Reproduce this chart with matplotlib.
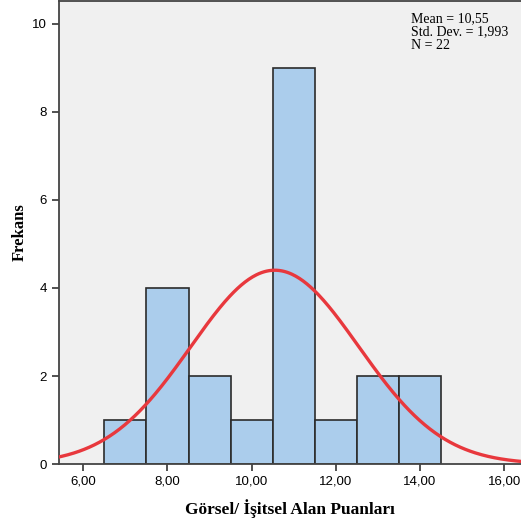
import matplotlib
matplotlib.use("Agg")
from matplotlib import pyplot as plt
import numpy as np

# histogram data (bin centres, counts)
centers = [7, 8, 9, 10, 11, 12, 13, 14]
counts = [1, 4, 2, 1, 9, 1, 2, 2]
mean = 10.55
sd = 1.993
n = 22
xticks = [6, 8, 10, 12, 14, 16]
xticklabels = ['6,00', '8,00', '10,00', '12,00', '14,00', '16,00']
yticks = [0, 2, 4, 6, 8, 10]

fig = plt.figure(figsize=(5.21, 5.27), dpi=100)
ax = fig.add_axes([0.113, 0.1195, 0.887, 0.8785])
ax.set_facecolor('#f0f0f0')

ax.bar(centers, counts, width=1.0, color='#abcdec', edgecolor='#2b2b2b', linewidth=1.2, zorder=2)

x = np.linspace(5.0, 17.0, 400)
y = n * 1.0 / (sd * np.sqrt(2 * np.pi)) * np.exp(-0.5 * ((x - mean) / sd) ** 2)
ax.plot(x, y, color='#e8383d', linewidth=2.4, zorder=3)

ax.set_xlim(5.42, 16.4)
ax.set_ylim(0, 10.52)
ax.set_xticks(xticks)
ax.set_xticklabels(xticklabels, fontfamily='Liberation Sans', fontsize=9.5)
ax.set_yticks(yticks)
ax.set_yticklabels([str(v) for v in yticks], fontfamily='Liberation Sans', fontsize=9.5)
ax.tick_params(direction='out', length=5, width=1.2, color='#333333')

for s in ['left', 'bottom', 'top']:
    ax.spines[s].set_color('#444444')
    ax.spines[s].set_linewidth(1.3)
ax.spines['right'].set_visible(False)

ax.set_xlabel('Görsel/ İşitsel Alan Puanları', fontfamily='Liberation Serif', fontsize=12.5,
              fontweight='bold', labelpad=8)
ax.set_ylabel('Frekans', fontfamily='Liberation Serif', fontsize=12, fontweight='bold')
ax.yaxis.set_label_coords(-0.068, 0.5)

ax.text(0.763, 0.975, 'Mean = 10,55\nStd. Dev. = 1,993\nN = 22', transform=ax.transAxes,
        ha='left', va='top', fontfamily='Liberation Serif', fontsize=10, linespacing=1.0)

fig.savefig('out.png', dpi=100)
